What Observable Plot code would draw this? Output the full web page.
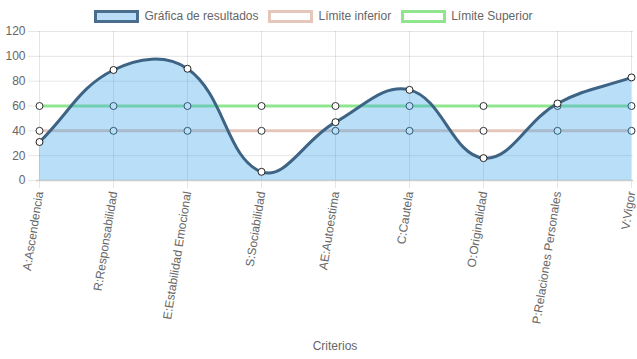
<!DOCTYPE html>
<html><head><meta charset="utf-8">
<script src="https://cdn.jsdelivr.net/npm/d3@7"></script>
<script src="https://cdn.jsdelivr.net/npm/@observablehq/plot@0.6"></script>
<style>
body{margin:0;background:#fff;font-family:"Liberation Sans",Arial,sans-serif;}
#legend{height:22px;display:flex;justify-content:center;align-items:flex-start;padding-top:9px;padding-right:10px;box-sizing:border-box;font-size:12px;color:#666;width:637px;}
.item{display:flex;align-items:center;margin:0 5px;line-height:14px;}
.box{width:39px;height:7px;border:3px solid;margin-right:5px;}
svg{overflow:visible;}
</style></head>
<body>
<div id="legend"></div>
<div id="chart"></div>
<script>
const categorias = ["A:Ascendencia","R:Responsabilidad","E:Estabilidad Emocional","S:Sociabilidad","AE:Autoestima","C:Cautela","O:Originalidad","P:Relaciones Personales","V:Vigor"];
const resultados = [31, 89, 90, 7, 47, 73, 18, 62, 83];
const limiteInferior = [40, 40, 40, 40, 40, 40, 40, 40, 40];
const limiteSuperior = [60, 60, 60, 60, 60, 60, 60, 60, 60];
const yTicks = [0, 20, 40, 60, 80, 100, 120];
const series = ["Gráfica de resultados", "Límite inferior", "Límite Superior"];

const colors = {
  resFill: "rgba(54,162,235,0.35)",
  resLine: "#3e6485",
  inf: "#e5c6ba",
  sup: "#8fe68f"
};

const rows = categorias.map((c, i) => ({cat: c, res: resultados[i], inf: limiteInferior[i], sup: limiteSuperior[i]}));

// Legend
const legend = document.getElementById("legend");
const legendStyles = [
  {bg: "#b9dcf7", border: "#4a6d8d"},
  {bg: "#fff", border: colors.inf},
  {bg: "#fff", border: colors.sup}
];
series.forEach((s, i) => {
  const it = document.createElement("div");
  it.className = "item";
  const b = document.createElement("div");
  b.className = "box";
  b.style.background = legendStyles[i].bg;
  b.style.borderColor = legendStyles[i].border;
  const t = document.createElement("span");
  t.textContent = s;
  it.appendChild(b); it.appendChild(t);
  legend.appendChild(it);
});

// Chart.js-style spline (tension 0.4, distance weighted control points)
function SplineCurve(context, tension) { this._context = context; this._t = tension; }
SplineCurve.prototype = {
  areaStart() { this._line = 0; },
  areaEnd() { this._line = NaN; },
  lineStart() { this._xs = []; this._ys = []; },
  point(x, y) { this._xs.push(+x); this._ys.push(+y); },
  lineEnd() {
    const xs = this._xs, ys = this._ys, n = xs.length, ctx = this._context, t = this._t;
    if (n) {
      if (this._line) ctx.lineTo(xs[0], ys[0]); else ctx.moveTo(xs[0], ys[0]);
      const cp = [];
      for (let i = 0; i < n; i++) {
        const p = i > 0 ? i - 1 : i, q = i < n - 1 ? i + 1 : i;
        const d01 = Math.hypot(xs[i] - xs[p], ys[i] - ys[p]);
        const d12 = Math.hypot(xs[q] - xs[i], ys[q] - ys[i]);
        let s01 = d01 / (d01 + d12), s12 = d12 / (d01 + d12);
        if (!isFinite(s01)) s01 = 0; if (!isFinite(s12)) s12 = 0;
        const fa = t * s01, fb = t * s12;
        const dx = xs[q] - xs[p], dy = ys[q] - ys[p];
        cp.push({px: xs[i] - fa * dx, py: ys[i] - fa * dy, nx: xs[i] + fb * dx, ny: ys[i] + fb * dy});
      }
      for (let i = 0; i < n - 1; i++) {
        ctx.bezierCurveTo(cp[i].nx, cp[i].ny, cp[i + 1].px, cp[i + 1].py, xs[i + 1], ys[i + 1]);
      }
    }
    if (this._line || (this._line !== 0 && n === 1)) ctx.closePath();
    this._line = 1 - this._line;
  }
};
const curve = (context) => new SplineCurve(context, 0.4);

const chart = Plot.plot({
  width: 637,
  height: 337,
  marginLeft: 36,
  marginRight: 4,
  marginTop: 9,
  marginBottom: 179,
  style: {fontFamily: "Liberation Sans, Arial, sans-serif", fontSize: "12px", color: "#666", background: "#fff", overflow: "visible"},
  x: {type: "point", domain: categorias, padding: 0},
  y: {domain: [0, 120]},
  marks: [
    Plot.gridX(categorias, {stroke: "#000", strokeOpacity: 0.1}),
    Plot.gridY(yTicks, {stroke: "#000", strokeOpacity: 0.1}),
    Plot.axisY({ticks: yTicks, tickSize: 8, tickPadding: 3, stroke: "#e6e6e6", strokeOpacity: 1, fill: "#666", label: null}),
    Plot.axisX({ticks: categorias, tickSize: 8, tickPadding: 3, tickRotate: -81, stroke: "#e6e6e6", strokeOpacity: 1, fill: "#666", label: "Criterios", labelAnchor: "center", labelArrow: "none", labelOffset: 169}),
    Plot.ruleY([0], {stroke: "#ccc", strokeWidth: 1.5}),
    Plot.lineY(rows, {x: "cat", y: "sup", stroke: colors.sup, strokeWidth: 3}),
    Plot.lineY(rows, {x: "cat", y: "inf", stroke: colors.inf, strokeWidth: 3}),
    Plot.dot(rows, {x: "cat", y: "sup", r: 3.5, fill: "#fff", stroke: "#333", strokeWidth: 1}),
    Plot.dot(rows, {x: "cat", y: "inf", r: 3.5, fill: "#fff", stroke: "#333", strokeWidth: 1}),
    Plot.areaY(rows, {x: "cat", y: "res", fill: colors.resFill, curve}),
    Plot.lineY(rows, {x: "cat", y: "res", stroke: colors.resLine, strokeWidth: 3, curve}),
    Plot.dot(rows, {x: "cat", y: "res", r: 3.5, fill: "#fff", stroke: "#222", strokeWidth: 1})
  ]
});
document.getElementById("chart").appendChild(chart);
</script>
</body></html>
